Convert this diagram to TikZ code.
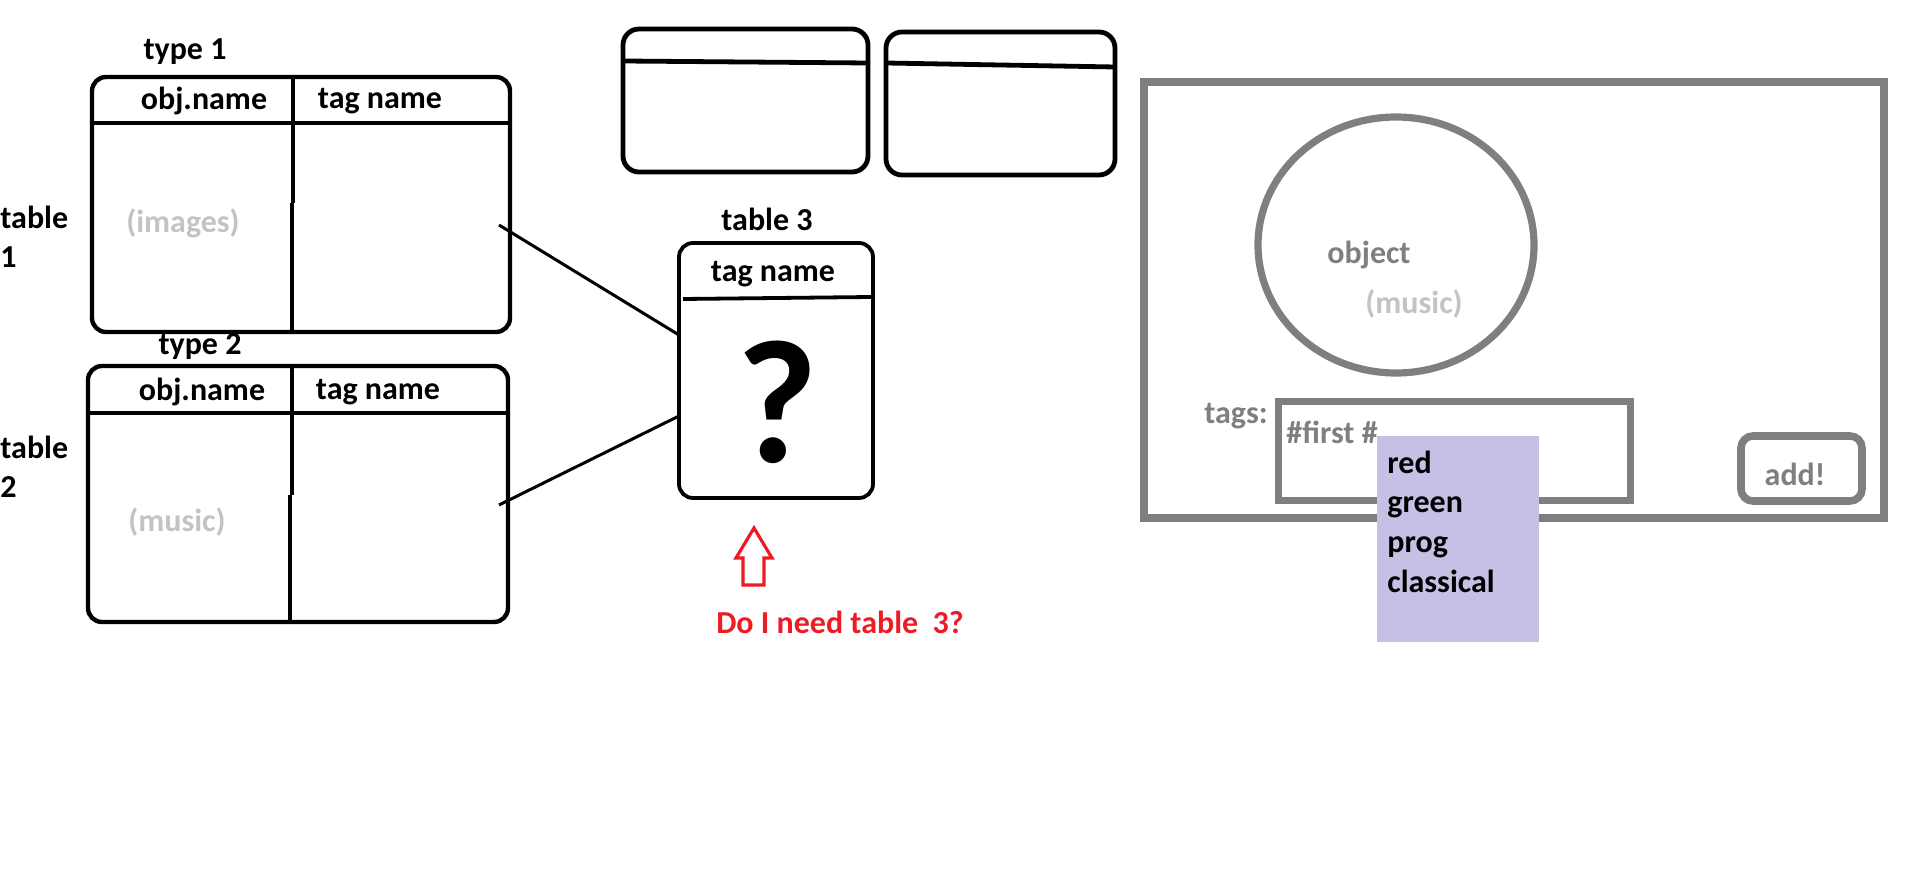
\documentclass[tikz,border=0pt]{standalone}
\usepackage{fontspec}
\setmainfont{Carlito}
\usetikzlibrary{calc,shapes.geometric}
\definecolor{uigray}{RGB}{127,127,127}
\definecolor{ltgray}{RGB}{195,195,195}
\definecolor{lav}{RGB}{200,191,231}
\definecolor{pred}{RGB}{237,28,36}
\tikzset{
  tbl/.style={draw, line width=2.2pt, rounded corners=7pt, inner sep=0pt, outer sep=0pt},
  sline/.style={line width=2.2pt},
  conn/.style={line width=1.5pt},
  lbl/.style={font=\bfseries\fontsize{16}{19.5}\selectfont, inner sep=0pt},
  lst/.style={lbl, text height=11.5pt, text depth=3.5pt},
  gtxt/.style={lbl, text=uigray},
  ltxt/.style={lbl, text=ltgray},
  gbox/.style={draw=uigray, inner sep=0pt, outer sep=0pt},
}
\begin{document}
\begin{tikzpicture}[x=0.5pt,y=-0.5pt]
\useasboundingbox (0,0) rectangle (1908,871);
% ---------- table 1
\node[tbl, minimum width=209pt, minimum height=127.5pt] (t1) at (301,204.5) {};
\draw[sline] (90,123) -- (512,123);
\draw[sline] (293,77) -- (293,203) (292,203) -- (292,334);
\node[lbl] (ty1) at (185,52) {type 1};
\node[lbl] (t1a) at (204,101) {obj.name};
\node[lbl] (t1b) at (380,101) {tag name};
\node[lbl, anchor=west, align=left] (tl1) at (0,237) {table\\1};
\node[ltxt] (im) at (183,223) {(images)};
% ---------- table 2
\node[tbl, minimum width=210pt, minimum height=128pt] (t2) at (298,494) {};
\draw[sline] (86,413) -- (510,413);
\draw[sline] (292,366) -- (292,495) (290,495) -- (290,624);
\node[lbl] (ty2) at (200,347) {type 2};
\node[lbl] (t2a) at (202,392) {obj.name};
\node[lbl] (t2b) at (378,392) {tag name};
\node[lbl, anchor=west, align=left] (tl2) at (0,467) {table\\2};
\node[ltxt] (mu1) at (177,522) {(music)};
% ---------- table 3
\node[draw, line width=1.9pt, rounded corners=7pt, inner sep=0pt, outer sep=0pt,
      minimum width=97pt, minimum height=127.5pt] (t3) at (776,370.5) {};
\draw[line width=1.9pt] (683,299) -- (871,297);
\node[lbl] (tl3) at (767,219) {table 3};
\node[lbl] (t3a) at (773,274) {tag name};
\node[font=\bfseries\fontsize{88}{90}\selectfont, inner sep=0pt] (q) at (777,402) {?};
% connectors
\coordinate (c1) at ($(t1.east)+(-11,20.5)$);
\coordinate (c2) at ($(t2.east)+(-9,11)$);
\draw[conn] (c1) -- ($(t3.west)+(0,-35.5)$);
\draw[conn] (c2) -- ($(t3.west)+(0,45.5)$);
% ---------- boxes A and B
\node[draw, line width=2.4pt, rounded corners=8pt, inner sep=0pt, outer sep=0pt,
      minimum width=122.5pt, minimum height=71.5pt] (ba) at (745.5,100.5) {};
\draw[line width=2.4pt] (623,61) -- (868,63);
\node[draw, line width=2.4pt, rounded corners=8pt, inner sep=0pt, outer sep=0pt,
      minimum width=114.5pt, minimum height=71.5pt] (bb) at (1000.5,103.5) {};
\draw[line width=2.4pt] (886,63) -- (1115,67);
% ---------- red arrow and question
\draw[pred, line width=1.6pt, line join=miter] (754,528) -- (736,558) -- (743,558) -- (743,585) -- (764,585) -- (764,558) -- (772,558) -- cycle;
\node[lbl, text=pred] (qq) at (840,622) {Do I need table\ \ 3?};
% ---------- right panel
\node[gbox, line width=3.8pt, minimum width=370pt, minimum height=218pt] (panel) at (1514,300) {};
\node[draw=uigray, line width=3.6pt, ellipse, inner sep=0pt, minimum width=138pt, minimum height=128pt] (obj) at (1396,245) {};
\node[gtxt] (objt) at (1369,255) {object};
\node[ltxt] (mu2) at (1414,304) {(music)};
\node[gtxt] (tg) at (1236,416) {tags:};
\node[gbox, line width=3.5pt, minimum width=176pt, minimum height=49.5pt] (tbox) at (1454,451.5) {};
\node[gtxt, anchor=west] (first) at (1286,432) {\#first \#};
\node[gbox, line width=3.8pt, rounded corners=6pt, minimum width=60.5pt, minimum height=32.5pt] (add) at (1801.5,468.5) {};
\node[gtxt] (addt) at (1795,474) {add!};
\fill[lav] (1377,436) rectangle (1539,642);
\node[lst, anchor=west] (o1) at (1387,466) {red};
\node[lst, anchor=west] (o2) at (1387,505) {green};
\node[lst, anchor=west] (o3) at (1387,545) {prog};
\node[lst, anchor=west] (o4) at (1387,585) {classical};
\end{tikzpicture}
\end{document}
